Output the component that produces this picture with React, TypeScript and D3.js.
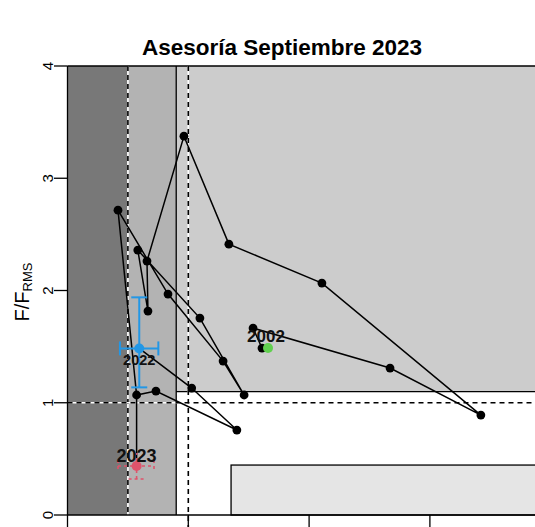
import React from "react";
import * as d3 from "d3";

// trajectory B/BRMS and F/FRMS, 2002 -> 2022
const years = [2002, 2003, 2004, 2005, 2006, 2007, 2008, 2009, 2010, 2011, 2012, 2013, 2014, 2015, 2016, 2017, 2018, 2019, 2020, 2021, 2022];
const bRatio = [0.83, 0.805, 0.768, 1.335, 1.711, 1.053, 0.668, 0.482, 0.329, 0.333, 0.291, 0.548, 0.731, 0.644, 0.416, 0.209, 0.286, 0.366, 0.701, 0.514, 0.297];
const fRatio = [1.487, 1.487, 1.665, 1.309, 0.89, 2.066, 2.413, 3.375, 2.262, 1.817, 2.36, 1.754, 1.069, 1.371, 1.968, 2.716, 1.069, 1.104, 0.757, 1.131, 1.484];

// current estimate (2022) with intervals
const estYear = 2022;
const estB = [0.217, 0.376];
const estF = [1.137, 1.939];

// projection 2023
const projYear = 2023;
const projFromYear = 2018;
const projPoint = [0.286, 0.436];
const projB = [0.209, 0.358];
const projF = [0.321, 0.552];

// zones
const bLim = 0.25;
const bZone = 0.45;
const bRef = 0.5;
const fZone = 1.1;
const fRef = 1;
const boxB = 0.677;
const boxF = 0.445;

const yTicks = [0, 1, 2, 3, 4];
const xTicks = [0, 0.5, 1, 1.5, 2];

const W = 535;
const H = 527;

export default function App() {
  const x = d3.scaleLinear().domain([0, 2]).range([67.5, 550.7]);
  const y = d3.scaleLinear().domain([0, 4]).range([515, 66]);
  const font = "'Liberation Sans', Arial, Helvetica, sans-serif";

  const pts = years.map((yr, i) => ({ yr, b: bRatio[i], f: fRatio[i] }));
  const line = d3
    .line<{ b: number; f: number }>()
    .x((d) => x(d.b))
    .y((d) => y(d.f));

  const xr = W + 20;
  const base = pts.find((p) => p.yr === projFromYear)!;
  const est = pts.find((p) => p.yr === estYear)!;
  const blue = "#2297E6";
  const red = "#DF536B";
  const green = "#61D04F";

  return (
    <svg
      width={W}
      height={H}
      style={{ position: "absolute", left: 0, top: 0, background: "#fff" }}
      fontFamily={font}
    >
      {/* zones */}
      <rect x={x(bZone)} y={y(4)} width={xr - x(bZone)} height={y(fZone) - y(4)} fill="#cccccc" />
      <rect x={x(0)} y={y(4)} width={x(bLim) - x(0)} height={y(0) - y(4)} fill="#787878" />
      <rect x={x(bLim)} y={y(4)} width={x(bZone) - x(bLim)} height={y(0) - y(4)} fill="#b3b3b3" />
      <rect x={x(boxB)} y={y(boxF)} width={xr - x(boxB)} height={y(0) - y(boxF)} fill="#e5e5e5" stroke="#000" strokeWidth={1.3} />
      <line x1={x(0)} x2={xr} y1={y(4)} y2={y(4)} stroke="#000" strokeWidth={1.3} />
      <line x1={x(bZone)} x2={x(bZone)} y1={y(4)} y2={y(0)} stroke="#000" strokeWidth={1.3} />
      <line x1={x(bZone)} x2={xr} y1={y(fZone)} y2={y(fZone)} stroke="#000" strokeWidth={1.3} />

      {/* reference lines */}
      {[
        { x1: x(bLim), x2: x(bLim), y1: y(4), y2: y(0) },
        { x1: x(bRef), x2: x(bRef), y1: y(4), y2: H },
        { x1: x(0), x2: xr, y1: y(fRef), y2: y(fRef) },
      ].map((l, i) => (
        <g key={i}>
          <line {...l} stroke="#fff" strokeWidth={1.6} />
          <line {...l} stroke="#000" strokeWidth={1.6} strokeDasharray="5,4" />
        </g>
      ))}

      {/* axes */}
      <line x1={x(0)} x2={x(0)} y1={y(4)} y2={y(0)} stroke="#000" strokeWidth={1.3} />
      <line x1={x(0)} x2={xr} y1={y(0)} y2={y(0)} stroke="#000" strokeWidth={1.3} />
      {yTicks.map((t) => (
        <g key={t} transform={`translate(0,${y(t)})`}>
          <line x1={54} x2={x(0)} stroke="#000" strokeWidth={1.3} />
          <text transform="translate(53,0) rotate(-90)" textAnchor="middle" fontSize={15} fill="#000">
            {t}
          </text>
        </g>
      ))}
      {xTicks.map((t) => (
        <line key={t} x1={x(t)} x2={x(t)} y1={y(0)} y2={y(0) + 14} stroke="#000" strokeWidth={1.3} />
      ))}
      <text transform="translate(29,292) rotate(-90)" textAnchor="middle" fontSize={20} fill="#000">
        F/F
        <tspan fontSize={13} dy={3}>RMS</tspan>
      </text>

      {/* title */}
      <text x={282} y={55} textAnchor="middle" fontSize={22.5} fontWeight="bold" fill="#000">
        Asesoría Septiembre 2023
      </text>

      {/* trajectory */}
      <path d={line(pts) || ""} fill="none" stroke="#000" strokeWidth={1.5} />
      <line x1={x(base.b)} x2={x(projPoint[0])} y1={y(base.f)} y2={y(projPoint[1])} stroke="#000" strokeWidth={1.5} />
      {pts.slice(1, -1).map((p) => (
        <circle key={p.yr} cx={x(p.b)} cy={y(p.f)} r={4.4} fill="#000" />
      ))}

      {/* estimate 2022 */}
      <g stroke={blue} strokeWidth={2}>
        <line x1={x(est.b)} x2={x(est.b)} y1={y(estF[0])} y2={y(estF[1])} />
        <line x1={x(est.b) - 8} x2={x(est.b) + 8} y1={y(estF[0])} y2={y(estF[0])} />
        <line x1={x(est.b) - 8} x2={x(est.b) + 8} y1={y(estF[1])} y2={y(estF[1])} />
        <line x1={x(estB[0])} x2={x(estB[1])} y1={y(est.f)} y2={y(est.f)} />
        <line x1={x(estB[0])} x2={x(estB[0])} y1={y(est.f) - 7} y2={y(est.f) + 7} />
        <line x1={x(estB[1])} x2={x(estB[1])} y1={y(est.f) - 7} y2={y(est.f) + 7} />
      </g>
      <circle cx={x(est.b)} cy={y(est.f)} r={5} fill={blue} />

      {/* projection 2023 */}
      <g stroke={red} strokeWidth={1.6} strokeDasharray="3,3">
        <line x1={x(projPoint[0])} x2={x(projPoint[0])} y1={y(projF[0])} y2={y(projF[1])} />
        <line x1={x(projPoint[0]) - 8} x2={x(projPoint[0]) + 8} y1={y(projF[0])} y2={y(projF[0])} />
        <line x1={x(projB[0])} x2={x(projB[1])} y1={y(projPoint[1])} y2={y(projPoint[1])} />
        <line x1={x(projB[0])} x2={x(projB[0])} y1={y(projPoint[1]) - 6} y2={y(projPoint[1]) + 6} />
        <line x1={x(projB[1])} x2={x(projB[1])} y1={y(projPoint[1]) - 6} y2={y(projPoint[1]) + 6} />
      </g>
      <circle cx={x(projPoint[0])} cy={y(projPoint[1])} r={5} fill={red} />

      {/* start */}
      <circle cx={x(pts[0].b)} cy={y(pts[0].f)} r={5} fill={green} />

      {/* year labels */}
      <text x={x(pts[0].b) - 2} y={y(pts[0].f) - 6} textAnchor="middle" fontSize={17} fontWeight="bold" fill="#111">
        {years[0]}
      </text>
      <text x={x(est.b)} y={y(est.f) + 17} textAnchor="middle" fontSize={14.5} fontWeight="bold" fill="#111">
        {estYear}
      </text>
      <text x={x(projPoint[0])} y={y(projPoint[1]) - 4} textAnchor="middle" fontSize={18} fontWeight="bold" fill="#111">
        {projYear}
      </text>
    </svg>
  );
}
